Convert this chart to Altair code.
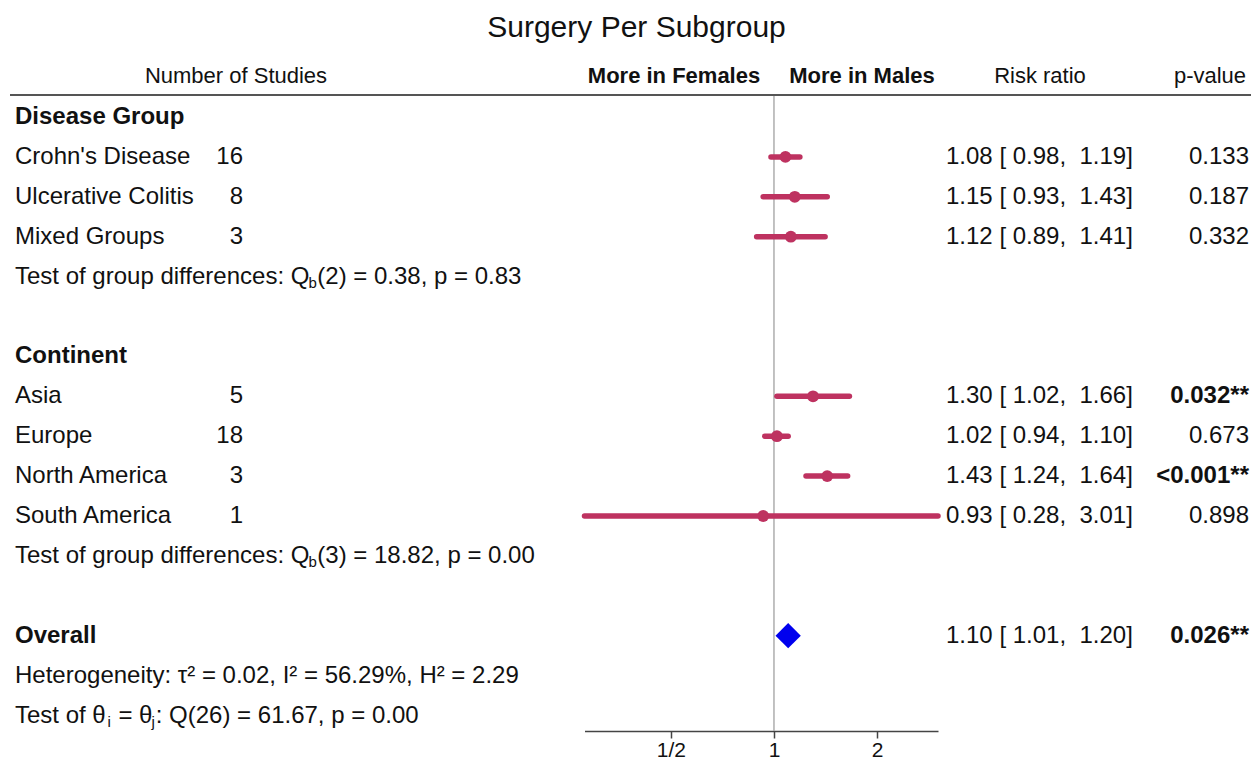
import altair as alt
import pandas as pd

# ---------------- data ----------------
study_labels = ["Crohn's Disease", "Ulcerative Colitis", "Mixed Groups",
                "Asia", "Europe", "North America", "South America"]
study_rows = [1, 2, 3, 7, 8, 9, 10]
n_studies = [16, 8, 3, 5, 18, 3, 1]
rr = [1.08, 1.15, 1.12, 1.30, 1.02, 1.43, 0.93]
ci_lo = [0.98, 0.93, 0.89, 1.02, 0.94, 1.24, 0.28]
ci_hi = [1.19, 1.43, 1.41, 1.66, 1.10, 1.64, 3.01]
p_text = ["0.133", "0.187", "0.332", "0.032**", "0.673", "<0.001**", "0.898"]
p_sig = [False, False, False, True, False, True, False]

header_labels = ["Disease Group", "Continent", "Overall"]
header_rows = [0, 6, 13]

overall_row = 13
overall_rr = [1.10]
overall_lo = [1.01]
overall_hi = [1.20]
overall_p = ["0.026**"]

test_rows = [4, 11]
test_df = ["2", "3"]
test_q = ["0.38", "18.82"]
test_p = ["0.83", "0.00"]

het_row = 14
het_text = "Heterogeneity: \u03c4\u00b2 = 0.02, I\u00b2 = 56.29%, H\u00b2 = 2.29"
theta_row = 15
theta_q = "Q(26) = 61.67, p = 0.00"

title_text = "Surgery Per Subgroup"
col_headers = ["Number of Studies", "More in Females", "More in Males", "Risk ratio", "p-value"]
tick_values = [0.5, 1, 2]

# ---------------- layout helpers ----------------
FONT = "Liberation Sans"
FS = 24
SUB = 15
HFS = 22
RED = "#BE3260"
INK = "#111111"
NB = "\u00a0"

# Arial / Liberation Sans advance widths (per 1000 em)
W = {" ": 278, "\u00a0": 278, "%": 889, "'": 191, "(": 333, ")": 333, ",": 278, "-": 333,
     ".": 278, "/": 278, ":": 278, "=": 584, "<": 584, "[": 278, "]": 278, "\u03b8": 556,
     "A": 667, "B": 667, "C": 722, "D": 722, "E": 667, "F": 611, "G": 778, "H": 722,
     "I": 278, "J": 500, "K": 667, "L": 556, "M": 833, "N": 722, "O": 778, "P": 667,
     "Q": 778, "R": 722, "S": 667, "T": 611, "U": 722, "V": 667, "W": 944,
     "a": 556, "b": 556, "c": 500, "d": 556, "e": 556, "f": 278, "g": 556, "h": 556,
     "i": 222, "j": 222, "k": 500, "l": 222, "m": 833, "n": 556, "o": 556, "p": 556,
     "q": 556, "r": 333, "s": 500, "t": 278, "u": 556, "v": 500, "w": 722, "x": 500,
     "y": 500, "z": 500}
for d in "0123456789":
    W[d] = 556


def tw(s, size):
    return sum(W.get(c, 556) for c in s) * size / 1000.0


def fmt5(v):
    return f"{v:5.2f}".replace(" ", NB)


def rr_label(r, lo, hi):
    return f"{r:.2f}{NB}[{fmt5(lo)},{NB}{fmt5(hi)}]"


ROW0 = 109.0      # chart y of row 0
STEP = 39.9       # row spacing
PLOT_H = 723
Y0 = -ROW0 / STEP
Y1 = (PLOT_H - ROW0) / STEP
HEADER_ROW = (68 - ROW0) / STEP
RULE_ROW = (87 - ROW0) / STEP
TITLE_ROW = (20 - ROW0) / STEP

yscale = alt.Scale(domain=[Y0, Y1], reverse=True, nice=False, zero=False)
xscale = alt.Scale(type="log", domain=[0.28, 3.01], range=[576.5, 930], nice=False)
xaxis = alt.Axis(values=tick_values, grid=False, title=None,
                 labelExpr="datum.value < 0.75 ? '1/2' : (datum.value < 1.5 ? '1' : '2')",
                 domainColor="#444444", domainWidth=1.5, tickColor="#444444",
                 tickWidth=1.5, tickSize=7, labelFont=FONT, labelFontSize=21,
                 labelColor=INK, labelPadding=1, labelFlush=False)


def xenc(field):
    return alt.X(field, scale=xscale, axis=xaxis, title=None)


LEFT_X = 7
COUNT_X = 235
RR_X = 938
P_X = 1241

# ---------------- tables ----------------
studies = pd.DataFrame({
    "label": study_labels, "row": study_rows, "n": [str(v) for v in n_studies],
    "rr": rr, "lo": ci_lo, "hi": ci_hi, "p": p_text, "sig": p_sig,
    "rrtext": [rr_label(a, b, c) for a, b, c in zip(rr, ci_lo, ci_hi)],
})
headers = pd.DataFrame({"label": header_labels, "row": header_rows})
overall = pd.DataFrame({"row": [overall_row], "rr": overall_rr, "lo": overall_lo,
                        "hi": overall_hi, "p": overall_p,
                        "rrtext": [rr_label(overall_rr[0], overall_lo[0], overall_hi[0])]})
tests = pd.DataFrame({"row": test_rows,
                      "tail": [f"({d}) = {q}, p = {p}" for d, q, p in zip(test_df, test_q, test_p)]})
het = pd.DataFrame({"row": [het_row], "t": [het_text]})

sig_rr = pd.concat([studies[studies.sig][["row", "p"]], overall[["row", "p"]]])
nonsig_rr = studies[~studies.sig][["row", "p"]]
rr_texts = pd.concat([studies[["row", "rrtext"]], overall[["row", "rrtext"]]])


def txt(data, field, x, align="left", size=FS, weight="normal", dy=0, yfield="row"):
    return alt.Chart(data).mark_text(
        align=align, baseline="middle", font=FONT, fontSize=size,
        fontWeight=weight, color=INK, dy=dy
    ).encode(
        x=alt.value(x),
        y=alt.Y(f"{yfield}:Q", scale=yscale, axis=None),
        text=f"{field}:N",
    )


def const_txt(s, row, x, align="left", size=FS, weight="normal", dy=0):
    d = pd.DataFrame({"row": [row], "t": [s]})
    return txt(d, "t", x, align, size, weight, dy)


layers = []

# reference line at RR = 1
layers.append(alt.Chart(pd.DataFrame({"v": [1]})).mark_rule(color="#A0A0A0", strokeWidth=1.3).encode(
    x=xenc("v:Q"),
    y=alt.Y(datum=RULE_ROW, scale=yscale, axis=None),
    y2=alt.Y2(datum=Y1),
))

# header rule
layers.append(alt.Chart(pd.DataFrame({"v": [0]})).mark_rule(color="#555555", strokeWidth=2.2).encode(
    x=alt.value(2), x2=alt.value(1251),
    y=alt.Y(datum=RULE_ROW, scale=yscale, axis=None),
))

# CI bars
layers.append(alt.Chart(studies).mark_rule(color=RED, strokeWidth=5.5, strokeCap="round").encode(
    x=xenc("lo:Q"),
    x2="hi:Q",
    y=alt.Y("row:Q", scale=yscale, axis=None),
))

# point estimates
layers.append(alt.Chart(studies).mark_circle(color=RED, size=140, opacity=1).encode(
    x=xenc("rr:Q"),
    y=alt.Y("row:Q", scale=yscale, axis=None),
))

# overall diamond
layers.append(alt.Chart(overall).mark_point(shape="diamond", filled=True, color="#0000EE",
                                             size=640, opacity=1).encode(
    x=xenc("rr:Q"),
    y=alt.Y("row:Q", scale=yscale, axis=None),
))

# text columns
layers.append(txt(studies, "label", LEFT_X))
layers.append(txt(headers, "label", LEFT_X, weight="bold"))
layers.append(txt(studies, "n", COUNT_X, align="right"))
layers.append(txt(rr_texts, "rrtext", RR_X))
layers.append(txt(nonsig_rr, "p", P_X, align="right"))
layers.append(txt(sig_rr, "p", P_X, align="right", weight="bold"))
layers.append(txt(het, "t", LEFT_X))

# group-difference tests with subscript b
seg1 = "Test of group differences: Q"
x_b = LEFT_X + tw(seg1, FS) - 4
x_tail = x_b + tw("b", SUB) + 0.5
layers.append(txt(tests.assign(s1=seg1), "s1", LEFT_X))
layers.append(txt(tests.assign(s2="b"), "s2", x_b, size=SUB, dy=6))
layers.append(txt(tests, "tail", x_tail))

# test of theta_i = theta_j  (gap = space advance placed between segments)
SP = tw(" ", FS)
segs = [("Test of \u03b8", FS, 0, 0), ("i", SUB, 6, 0), ("= \u03b8", FS, 0, SP),
        ("j", SUB, 6, 0), (": " + theta_q, FS, 0, 0)]
cx = LEFT_X
for s, size, dy, gap in segs:
    cx += gap
    layers.append(const_txt(s, theta_row, cx, size=size, dy=dy))
    cx += tw(s, size) + (1 if size == SUB else -1)

# column headers and title
layers.append(const_txt(col_headers[0], HEADER_ROW, 228, align="center", size=HFS))
layers.append(const_txt(col_headers[1], HEADER_ROW, 666, align="center", size=HFS, weight="bold"))
layers.append(const_txt(col_headers[2], HEADER_ROW, 854, align="center", size=HFS, weight="bold"))
layers.append(const_txt(col_headers[3], HEADER_ROW, 1032, align="center", size=HFS))
layers.append(const_txt(col_headers[4], HEADER_ROW, 1202, align="center", size=HFS))
layers.append(const_txt(title_text, TITLE_ROW, 628.5, align="center", size=30))

chart = alt.layer(*layers).properties(
    width=1243, height=PLOT_H,
    autosize=alt.AutoSizeParams(type="none"),
    padding={"left": 0, "top": 0, "right": 0, "bottom": 31},
).configure_view(stroke=None)

chart.save("out.html", embed_options={"renderer": "svg", "actions": False})
